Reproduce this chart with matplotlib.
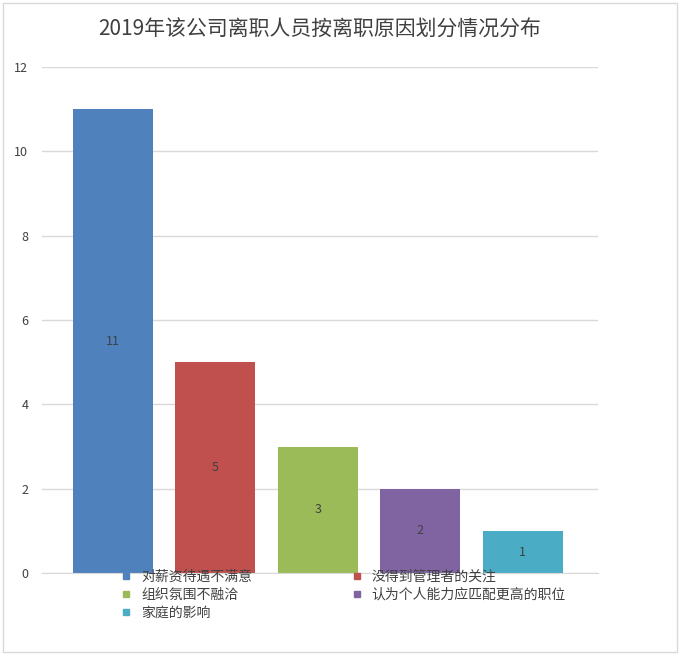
import matplotlib
matplotlib.use("Agg")
import matplotlib.pyplot as plt
from matplotlib.lines import Line2D
from matplotlib.patches import Rectangle

plt.rcParams["font.family"] = ["Noto Sans CJK SC", "DejaVu Sans"]

categories = ["对薪资待遇不满意", "没得到管理者的关注", "组织氛围不融洽",
              "认为个人能力应匹配更高的职位", "家庭的影响"]
values = [11, 5, 3, 2, 1]
colors = ["#4F81BD", "#C0504D", "#9BBB59", "#8064A2", "#4BACC6"]
yticks = [0, 2, 4, 6, 8, 10, 12]

fig = plt.figure(figsize=(6.8, 6.55), dpi=100)
fig.patches.append(Rectangle((0.004, 0.004), 0.992, 0.992, transform=fig.transFigure,
                             fill=False, edgecolor="#D9D9D9", linewidth=1))
ax = fig.add_axes([0.062, 0.125, 0.817, 0.773])

x = list(range(len(values)))
ax.bar(x, values, width=0.78, color=colors, zorder=2)
for xi, v in zip(x, values):
    ax.text(xi, v / 2, str(v), ha="center", va="center", fontsize=9, color="#404040", zorder=3)

ax.set_xlim(-0.69, 4.73)
ax.set_ylim(0, 12)
ax.set_yticks(yticks)
ax.set_xticks([])
ax.tick_params(axis="y", length=0, labelsize=9, labelcolor="#404040", pad=10)
ax.grid(axis="y", color="#D9D9D9", linewidth=1, zorder=0)
for s in ["top", "right", "left"]:
    ax.spines[s].set_visible(False)
ax.spines["bottom"].set_color("#D9D9D9")

fig.text(0.47, 0.955, "2019年该公司离职人员按离职原因划分情况分布",
         ha="center", va="center", fontsize=15, color="#404040")

# legend is filled row by row in the reference, matplotlib fills columns
order = [0, 2, 4, 1, 3]
handles = [Line2D([], [], marker="s", linestyle="none", markersize=5,
                  markerfacecolor=colors[i], markeredgecolor=colors[i]) for i in order]
labels = [categories[i] for i in order]
fig.legend(handles, labels, loc="upper left", bbox_to_anchor=(0.165, 0.13),
           ncol=2, frameon=False, fontsize=10, handletextpad=0.1,
           columnspacing=6.5, labelspacing=0.3, labelcolor="#404040",
           borderaxespad=0, borderpad=0)

fig.savefig("out.png", dpi=100)
